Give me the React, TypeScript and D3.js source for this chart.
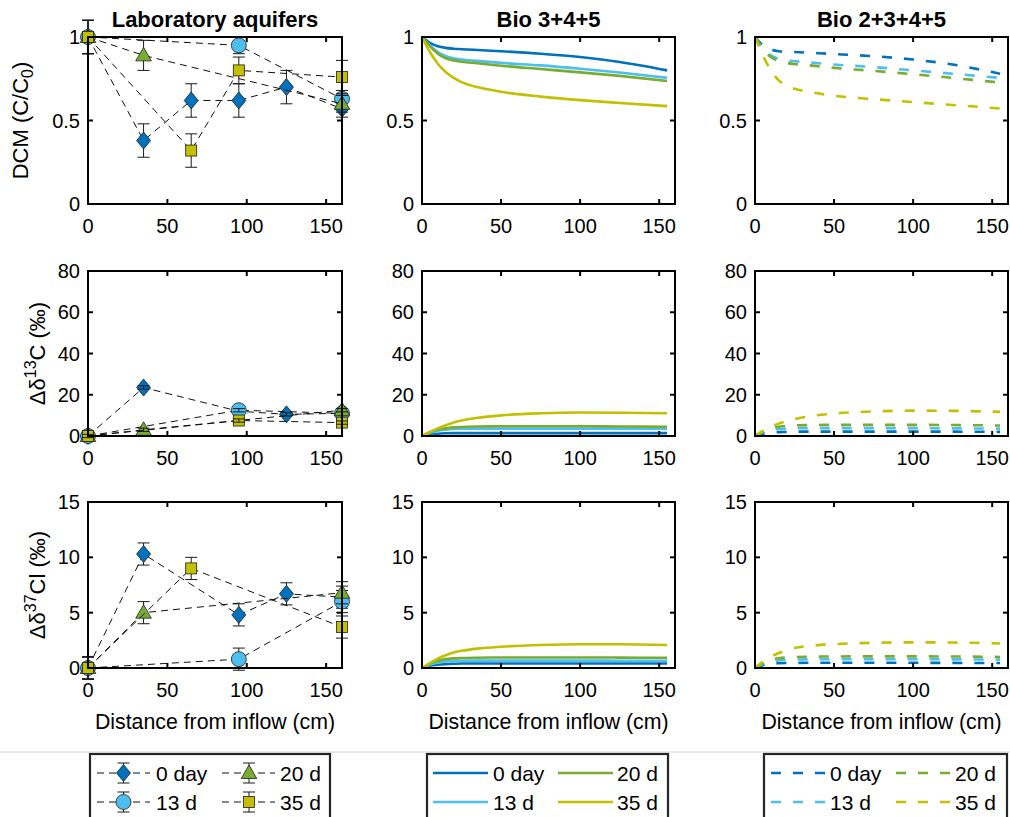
import React from 'react';
import * as d3 from 'd3';

// ---------- data ----------
const SERIES_NAMES = ['0 day', '13 d', '20 d', '35 d'];
const COLORS = ['#0072BD', '#4DBEEE', '#77AC30', '#C2C000'];
const MARKERS = ['diamond', 'circle', 'triangle', 'square'];

const X_TICKS = [0, 50, 100, 150];
const DCM_TICKS = [0, 0.5, 1];
const C13_TICKS = [0, 20, 40, 60, 80];
const CL37_TICKS = [0, 5, 10, 15];
const TITLES = ['Laboratory aquifers', 'Bio 3+4+5', 'Bio 2+3+4+5'];

// Laboratory aquifers: measured points with error bars
const LAB_DCM = [
  { x: [0, 35, 65, 95, 125, 160], y: [1, 0.38, 0.62, 0.62, 0.7, 0.57], e: [0.1, 0.1, 0.1, 0.1, 0.1, 0.05] },
  { x: [0, 95, 160], y: [1, 0.95, 0.63], e: [0.1, 0.05, 0.05] },
  { x: [0, 35, 160], y: [1, 0.89, 0.6], e: [0.1, 0.09, 0.05] },
  { x: [0, 65, 95, 160], y: [1, 0.32, 0.8, 0.76], e: [0.1, 0.1, 0.08, 0.1] },
];
const LAB_C13 = [
  { x: [0, 35, 95, 125, 160], y: [0, 23.5, 12, 10.5, 11], e: [0.8, 0.8, 0.8, 0.8, 0.8] },
  { x: [0, 95, 160], y: [0, 12.5, 11], e: [0.8, 0.8, 0.8] },
  { x: [0, 35, 160], y: [0, 3, 12.5], e: [0.8, 0.8, 0.8] },
  { x: [0, 95, 160], y: [0, 7.5, 6.5], e: [0.8, 0.8, 0.8] },
];
const LAB_CL37 = [
  { x: [0, 35, 95, 125, 160], y: [0, 10.3, 4.8, 6.7, 6.4], e: [1, 1, 1, 1, 1] },
  { x: [0, 95, 160], y: [0, 0.8, 6.0], e: [1, 1, 1] },
  { x: [0, 35, 160], y: [0, 5, 6.8], e: [1, 1, 1] },
  { x: [0, 65, 160], y: [0, 9, 3.7], e: [1, 1, 1] },
];

// Model curves
const MODEL_X = [0, 5, 10, 15, 20, 25, 35, 50, 75, 100, 125, 155];

const BIO345_DCM = [
  [1, 0.965, 0.945, 0.935, 0.93, 0.927, 0.922, 0.915, 0.9, 0.88, 0.85, 0.8],
  [1, 0.95, 0.91, 0.885, 0.872, 0.865, 0.857, 0.845, 0.83, 0.81, 0.787, 0.755],
  [1, 0.945, 0.9, 0.873, 0.86, 0.852, 0.843, 0.828, 0.808, 0.788, 0.767, 0.737],
  [1, 0.91, 0.84, 0.79, 0.755, 0.73, 0.7, 0.672, 0.643, 0.622, 0.605, 0.586],
];
const BIO2345_DCM = [
  [1, 0.95, 0.925, 0.915, 0.912, 0.91, 0.905, 0.898, 0.885, 0.865, 0.835, 0.78],
  [1, 0.93, 0.89, 0.87, 0.86, 0.855, 0.847, 0.835, 0.82, 0.8, 0.78, 0.755],
  [1, 0.925, 0.88, 0.857, 0.845, 0.838, 0.83, 0.815, 0.797, 0.777, 0.755, 0.727],
  [1, 0.89, 0.8, 0.74, 0.71, 0.69, 0.67, 0.648, 0.628, 0.61, 0.593, 0.572],
];
const BIO345_C13 = [
  [0, 0.7, 1.1, 1.3, 1.4, 1.4, 1.4, 1.4, 1.4, 1.4, 1.4, 1.4],
  [0, 1.5, 2.6, 3.1, 3.4, 3.5, 3.6, 3.6, 3.6, 3.6, 3.6, 3.5],
  [0, 1.8, 3.1, 3.8, 4.2, 4.4, 4.6, 4.7, 4.7, 4.7, 4.6, 4.5],
  [0, 2.0, 3.7, 5.2, 6.5, 7.5, 8.8, 10.0, 11.0, 11.4, 11.3, 11.0],
];
const BIO2345_C13 = [
  [0, 1.0, 1.6, 1.9, 2.0, 2.1, 2.1, 2.1, 2.1, 2.1, 2.1, 2.0],
  [0, 1.8, 2.9, 3.4, 3.6, 3.7, 3.8, 3.8, 3.8, 3.8, 3.7, 3.6],
  [0, 2.2, 3.7, 4.5, 4.9, 5.1, 5.3, 5.4, 5.4, 5.4, 5.3, 5.1],
  [0, 2.5, 4.5, 6.0, 7.2, 8.2, 9.6, 10.9, 11.9, 12.3, 12.2, 11.7],
];
const BIO345_CL37 = [
  [0, 0.2, 0.3, 0.35, 0.38, 0.4, 0.4, 0.4, 0.4, 0.4, 0.4, 0.4],
  [0, 0.3, 0.5, 0.6, 0.63, 0.65, 0.67, 0.67, 0.67, 0.67, 0.66, 0.65],
  [0, 0.4, 0.65, 0.8, 0.87, 0.9, 0.93, 0.95, 0.95, 0.95, 0.94, 0.92],
  [0, 0.45, 0.85, 1.15, 1.4, 1.55, 1.75, 1.92, 2.08, 2.15, 2.15, 2.08],
];
const BIO2345_CL37 = [
  [0, 0.25, 0.38, 0.43, 0.45, 0.46, 0.47, 0.47, 0.47, 0.47, 0.46, 0.45],
  [0, 0.35, 0.55, 0.68, 0.73, 0.76, 0.78, 0.79, 0.79, 0.79, 0.78, 0.76],
  [0, 0.45, 0.72, 0.88, 0.95, 0.99, 1.02, 1.04, 1.05, 1.05, 1.04, 1.0],
  [0, 0.55, 1.0, 1.35, 1.6, 1.8, 2.0, 2.15, 2.28, 2.32, 2.3, 2.22],
];

// ---------- layout ----------
const W = 1010;
const H = 817;
const COLS = [
  { x0: 88, x1: 342 },
  { x0: 422, x1: 675 },
  { x0: 755, x1: 1008 },
];
const ROWS = [
  { y0: 37, y1: 204, domain: [0, 1], ticks: DCM_TICKS, barsOnTop: false },
  { y0: 271, y1: 436, domain: [0, 80], ticks: C13_TICKS, barsOnTop: true },
  { y0: 502, y1: 668, domain: [0, 15], ticks: CL37_TICKS, barsOnTop: false },
];
const FONT = 'Liberation Sans, Arial, Helvetica, sans-serif';
const TICK_FS = 20;
const LABEL_FS = 22;
const XLABEL_FS = 21.3;
const LEG_FS = 21;

function Marker({ type, x, y, fill }: { type: string; x: number; y: number; fill: string }) {
  const st = { fill, stroke: '#1f1f1f', strokeWidth: 0.8 };
  if (type === 'diamond')
    return <path d={`M${x},${y - 8.5}L${x + 7},${y}L${x},${y + 8.5}L${x - 7},${y}Z`} {...st} />;
  if (type === 'circle') return <circle cx={x} cy={y} r={7.5} {...st} />;
  if (type === 'triangle')
    return <path d={`M${x},${y - 8}L${x + 7.8},${y + 5.5}L${x - 7.8},${y + 5.5}Z`} {...st} />;
  return <rect x={x - 5.5} y={y - 5.5} width={11} height={11} {...st} />;
}

function ErrBar({ x, yTop, yBot }: { x: number; yTop: number; yBot: number }) {
  const c = 6;
  return (
    <g stroke="#1a1a1a" strokeWidth={1}>
      <line x1={x} x2={x} y1={yTop} y2={yBot} />
      <line x1={x - c} x2={x + c} y1={yTop} y2={yTop} />
      <line x1={x - c} x2={x + c} y1={yBot} y2={yBot} />
    </g>
  );
}

function Frame({ col, row, showTitle, title }: any) {
  const xs = d3.scaleLinear().domain([0, 160]).range([col.x0, col.x1]);
  const ys = d3.scaleLinear().domain(row.domain).range([row.y1, row.y0]);
  const tl = 5;
  return (
    <g>
      {X_TICKS.map((t) => (
        <g key={'xt' + t}>
          <line x1={xs(t)} x2={xs(t)} y1={row.y1} y2={row.y1 - tl} stroke="#000" strokeWidth={2} />
          <line x1={xs(t)} x2={xs(t)} y1={row.y0} y2={row.y0 + tl} stroke="#000" strokeWidth={2} />
          <text x={xs(t)} y={row.y1 + 29} textAnchor="middle" fontSize={TICK_FS} fontFamily={FONT}>
            {t}
          </text>
        </g>
      ))}
      {row.ticks.map((t: number) => (
        <g key={'yt' + t}>
          <line x1={col.x0} x2={col.x0 + tl} y1={ys(t)} y2={ys(t)} stroke="#000" strokeWidth={2} />
          <line x1={col.x1} x2={col.x1 - tl} y1={ys(t)} y2={ys(t)} stroke="#000" strokeWidth={2} />
          <text x={col.x0 - 8} y={ys(t) + 7} textAnchor="end" fontSize={TICK_FS} fontFamily={FONT}>
            {t}
          </text>
        </g>
      ))}
      <rect x={col.x0} y={row.y0} width={col.x1 - col.x0} height={row.y1 - row.y0} fill="none" stroke="#000" strokeWidth={2} />
      {showTitle && (
        <text x={(col.x0 + col.x1) / 2} y={27} textAnchor="middle" fontSize={LABEL_FS} fontWeight="bold" fontFamily={FONT}>
          {title}
        </text>
      )}
    </g>
  );
}

function LabPanel({ col, row, data }: any) {
  const xs = d3.scaleLinear().domain([0, 160]).range([col.x0, col.x1]);
  const ys = d3.scaleLinear().domain(row.domain).range([row.y1, row.y0]);
  const line = d3.line<number>();
  return (
    <g>
      {data.map((s: any, i: number) => {
        const pts = s.x.map((xv: number, k: number) => [xs(xv), ys(s.y[k])]);
        const bars = s.x.map((xv: number, k: number) => (
          <ErrBar key={'e' + k} x={xs(xv)} yTop={ys(s.y[k] + s.e[k])} yBot={ys(s.y[k] - s.e[k])} />
        ));
        const marks = s.x.map((xv: number, k: number) => (
          <Marker key={'m' + k} type={MARKERS[i]} x={xs(xv)} y={ys(s.y[k])} fill={COLORS[i]} />
        ));
        return (
          <g key={i}>
            <path d={line(pts as any) || ''} fill="none" stroke="#111" strokeWidth={1} strokeDasharray="7,5" />
            {row.barsOnTop ? marks : bars}
            {row.barsOnTop ? bars : marks}
          </g>
        );
      })}
    </g>
  );
}

function ModelPanel({ col, row, data, dashed }: any) {
  const xs = d3.scaleLinear().domain([0, 160]).range([col.x0, col.x1]);
  const ys = d3.scaleLinear().domain(row.domain).range([row.y1, row.y0]);
  const line = d3
    .line<number>()
    .x((_, k) => xs(MODEL_X[k]))
    .y((d) => ys(d))
    .curve(d3.curveMonotoneX);
  return (
    <g>
      {data.map((s: number[], i: number) => (
        <path
          key={i}
          d={line(s) || ''}
          fill="none"
          stroke={COLORS[i]}
          strokeWidth={2.6}
          strokeDasharray={dashed ? '10,12' : undefined}
        />
      ))}
    </g>
  );
}

function YLabel({ x, y, kind }: { x: number; y: number; kind: string }) {
  let content: any;
  if (kind === 'dcm')
    content = (
      <>
        DCM (C/C<tspan dy={5} fontSize={16}>0</tspan>
        <tspan dy={-5}>)</tspan>
      </>
    );
  else if (kind === 'c13')
    content = (
      <>
        Δδ<tspan dy={-9} fontSize={16}>13</tspan>
        <tspan dy={9}>C (‰)</tspan>
      </>
    );
  else
    content = (
      <>
        Δδ<tspan dy={-9} fontSize={16}>37</tspan>
        <tspan dy={9}>Cl (‰)</tspan>
      </>
    );
  return (
    <text transform={`translate(${x},${y}) rotate(-90)`} textAnchor="middle" fontSize={LABEL_FS} fontFamily={FONT}>
      {content}
    </text>
  );
}

function Legends() {
  const rowsY = [773, 802];
  const box = (x0: number, x1: number) => (
    <rect x={x0} y={754} width={x1 - x0} height={90} fill="#fff" stroke="#262626" strokeWidth={2.2} />
  );
  const labCols = [
    { l0: 97, l1: 150, m: 123.5, t: 156 },
    { l0: 222, l1: 275, m: 249, t: 280 },
  ];
  const midCols = [
    { l0: 433, l1: 488, t: 493 },
    { l0: 558, l1: 613, t: 617 },
  ];
  const rightCols = [
    { l0: 771, l1: 826, t: 830 },
    { l0: 896, l1: 950, t: 955 },
  ];
  const order = [0, 2, 1, 3]; // row-major: 0 day, 20 d / 13 d, 35 d
  return (
    <g>
      <line x1={0} x2={W} y1={752} y2={752} stroke="#d4d4d4" strokeWidth={1} />
      {box(90, 330)}
      {box(427, 668)}
      {box(764, 1007)}
      {order.map((si, idx) => {
        const r = Math.floor(idx / 2);
        const c = idx % 2;
        const y = rowsY[r];
        const lc = labCols[c];
        const mc = midCols[c];
        const rc = rightCols[c];
        return (
          <g key={si}>
            <line x1={lc.l0} x2={lc.l1} y1={y} y2={y} stroke="#111" strokeWidth={1} strokeDasharray="7,5" />
            <ErrBar x={lc.m} yTop={y - 10} yBot={y + 10} />
            <Marker type={MARKERS[si]} x={lc.m} y={y} fill={COLORS[si]} />
            <text x={lc.t} y={y + 7.5} fontSize={LEG_FS} fontFamily={FONT}>
              {SERIES_NAMES[si]}
            </text>
            <line x1={mc.l0} x2={mc.l1} y1={y} y2={y} stroke={COLORS[si]} strokeWidth={2.6} />
            <text x={mc.t} y={y + 7.5} fontSize={LEG_FS} fontFamily={FONT}>
              {SERIES_NAMES[si]}
            </text>
            <line x1={rc.l0} x2={rc.l1} y1={y} y2={y} stroke={COLORS[si]} strokeWidth={2.6} strokeDasharray="10,12" />
            <text x={rc.t} y={y + 7.5} fontSize={LEG_FS} fontFamily={FONT}>
              {SERIES_NAMES[si]}
            </text>
          </g>
        );
      })}
    </g>
  );
}

export default function App() {
  const labData = [LAB_DCM, LAB_C13, LAB_CL37];
  const midData = [BIO345_DCM, BIO345_C13, BIO345_CL37];
  const rightData = [BIO2345_DCM, BIO2345_C13, BIO2345_CL37];
  const ylabels = [
    { kind: 'dcm', x: 28 },
    { kind: 'c13', x: 45 },
    { kind: 'cl37', x: 45 },
  ];
  return (
    <div style={{ position: 'fixed', left: 0, top: 0, width: W, height: H, background: '#fff' }}>
      <svg width={W} height={H} style={{ display: 'block' }}>
        <rect x={0} y={0} width={W} height={H} fill="#fff" />
        {ROWS.map((row, ri) => (
          <g key={ri}>
            <LabPanel col={COLS[0]} row={row} data={labData[ri]} />
            <ModelPanel col={COLS[1]} row={row} data={midData[ri]} dashed={false} />
            <ModelPanel col={COLS[2]} row={row} data={rightData[ri]} dashed={true} />
            {COLS.map((col, ci) => (
              <Frame key={ci} col={col} row={row} showTitle={ri === 0} title={TITLES[ci]} />
            ))}
            <YLabel x={ylabels[ri].x} y={(row.y0 + row.y1) / 2} kind={ylabels[ri].kind} />
          </g>
        ))}
        {COLS.map((col, ci) => (
          <text key={'xl' + ci} x={(col.x0 + col.x1) / 2} y={729} textAnchor="middle" fontSize={XLABEL_FS} fontFamily={FONT}>
            Distance from inflow (cm)
          </text>
        ))}
        <Legends />
      </svg>
    </div>
  );
}
